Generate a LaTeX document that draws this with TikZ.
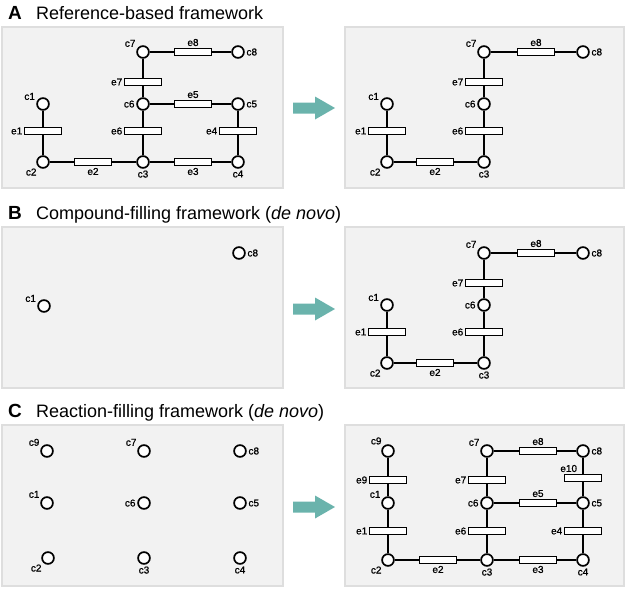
\documentclass[tikz,border=0pt]{standalone}
\usepackage{fontspec}
\setmainfont{Liberation Sans}
\newfontfamily\labfamily{Liberation Sans}[FakeBold=0.8]
\colorlet{Panel}{black!5}
\colorlet{PanelEdge}{black!13}
\definecolor{Teal}{HTML}{6AB3AC}
\newcommand\lab{\labfamily\fontsize{10}{10}\selectfont}

\begin{document}
\begin{tikzpicture}[
  x=1pt,
  y=-1pt,
  line width=1.5pt,
  panel/.style={fill=Panel, draw=PanelEdge, line width=1.2pt},
  cmp/.style={circle, draw, fill=white, line width=1.7pt,
    minimum size=11.8pt, inner sep=0pt},
  rxn/.style={rectangle, draw, fill=white, line width=1.4pt,
    minimum width=36.6pt, minimum height=7pt, inner sep=0pt},
  every label/.style={font=\lab, inner sep=1pt},
  label distance=0pt,
  tag/.style={anchor=base west, font=\fontsize{19}{19}\selectfont\bfseries},
  title/.style={anchor=base west, font=\fontsize{18}{18}\selectfont}]
\useasboundingbox (0,0) rectangle (627,589);
\foreach \y in {27, 227, 425}{
  \draw[panel] (2,\y) rectangle ++(281,161);
  \draw[panel] (345,\y) rectangle ++(279,161);}
\foreach \y in {108, 309, 507}
  \fill[Teal] (293,\y) ++(0,-5.5) --++(22,0) --++(0,-6)
  --++(20,11.5) --++(-20,11.5) --++(0,-6) --++(-22,0) --cycle;
\node[tag] (tagA) at (4,19.5) {A};
\node[title] (titleA) at (32,19.5) {Reference-based framework};
\node[tag] (tagB) at (4,219) {B};
\node[title] (titleB) at (32,219) {Compound-filling framework (\textit{de novo})};
\node[tag] (tagC) at (4,417.5) {C};
\node[title] (titleC) at (32,417.5) {Reaction-filling framework (\textit{de novo})};
% A, reference route
\foreach \n/\x/\y/\p in {
  c1/43/104/160, c2/43/162/below left, c3/143/162/below, c4/238/162/below,
  c5/238/104/right, c6/143/104/left, c7/143/52/150, c8/238/52/right}
  \node[cmp, label=\p:\n] (aL\n) at (\x,\y) {};
\foreach \n/\x/\y/\p in {
  e1/43/131/left, e2/93/162/below, e3/193/162/below, e4/238/131/left,
  e5/193/104/above, e6/143/131/left, e7/143/82/left, e8/193/52/above}
  \node[rxn, label=\p:\n] (aL\n) at (\x,\y) {};
\draw (aLc1) -- (aLe1) -- (aLc2) -- (aLe2) -- (aLc3) -- (aLe3) -- (aLc4)
  -- (aLe4) -- (aLc5) -- (aLe5) -- (aLc6)
  (aLc3) -- (aLe6) -- (aLc6) -- (aLe7) -- (aLc7) -- (aLe8) -- (aLc8);
% A and B, found route
\foreach \s/\q in {0/a, 201/b}{
  \begin{scope}[shift={(0,\s)}]
  \foreach \n/\x/\y/\p in {
    c1/387/104/160, c2/387/162/below left, c3/484/162/below,
    c6/484/104/left, c7/484/52/150, c8/583/52/right}
    \node[cmp, label=\p:\n] (\q R\n) at (\x,\y) {};
  \foreach \n/\x/\y/\p in {
    e1/387/131/left, e2/435/162/below, e6/484/131/left,
    e7/484/82/left, e8/536/52/above}
    \node[rxn, label=\p:\n] (\q R\n) at (\x,\y) {};
  \draw (\q Rc1) -- (\q Re1) -- (\q Rc2) -- (\q Re2) -- (\q Rc3)
    -- (\q Re6) -- (\q Rc6) -- (\q Re7) -- (\q Rc7) -- (\q Re8) -- (\q Rc8);
  \end{scope}}
\node[cmp, label=160:c1] (bLc1) at (44,306) {};
\node[cmp, label=right:c8] (bLc8) at (239,253) {};
% C, compounds only
\foreach \n/\x/\y/\p in {
  c9/47/451/150, c7/144/451/150, c8/240/451/right,
  c1/47/503/150, c6/144/503/left, c5/240/503/right,
  c2/48/558/below left, c3/144/558/below, c4/240/558/below}
  \node[cmp, label=\p:\n] (cL\n) at (\x,\y) {};
% C, filled with reactions
\foreach \n/\x/\y/\p in {
  c9/388/451/above left, c1/388/503/150, c2/388/560/below left,
  c3/487/560/below, c4/583/560/below, c5/583/503/right,
  c6/487/503/left, c7/487/451/150, c8/583/451/right}
  \node[cmp, label=\p:\n] (cR\n) at (\x,\y) {};
\foreach \n/\x/\y/\p in {
  e1/388/531/left, e2/438/560/below, e3/538/560/below, e4/583/531/left,
  e5/538/503/above, e6/487/531/left, e7/487/480/left, e8/538/451/above,
  e9/388/480/left, e10/583/478/above left}
  \node[rxn, label=\p:\n] (cR\n) at (\x,\y) {};
\draw (cRc9) -- (cRe9) -- (cRc1) -- (cRe1) -- (cRc2) -- (cRe2) -- (cRc3)
  -- (cRe3) -- (cRc4) -- (cRe4) -- (cRc5) -- (cRe5) -- (cRc6)
  (cRc3) -- (cRe6) -- (cRc6) -- (cRe7) -- (cRc7) -- (cRe8) -- (cRc8)
  -- (cRe10) -- (cRc5);
\end{tikzpicture}
\end{document}
